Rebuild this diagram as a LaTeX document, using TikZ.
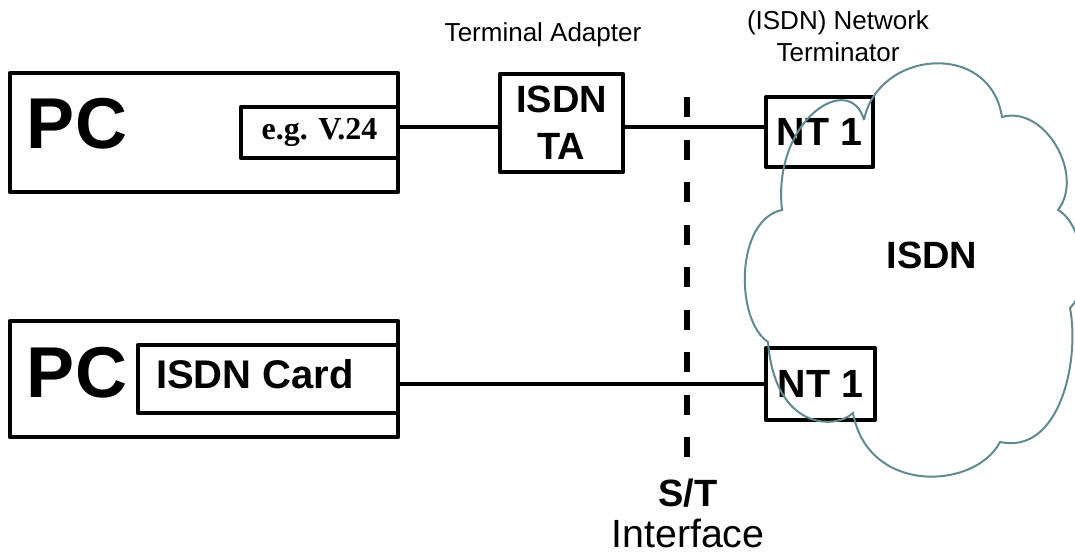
\documentclass[tikz,border=0pt]{standalone}
\usepackage{fontspec}
\setmainfont{Liberation Sans}
\newfontfamily\timesfont{Liberation Serif}

\begin{document}
\begin{tikzpicture}[x=0.75pt,y=0.75pt,yscale=-1,xscale=1,
	box/.style={draw,line width=3.5pt,line join=round,rectangle,inner sep=0pt},
	link/.style={line width=3.2pt},
	stline/.style={line width=4.5pt,dash pattern=on 15pt off 16.9pt},
	cloudline/.style={color={rgb, 255:red, 96; green, 138; blue, 144 },line width=1.5pt},
	pcfont/.style={font=\fontsize{54}{60}\selectfont\bfseries},
	bigfont/.style={font=\fontsize{28.5}{35}\selectfont\bfseries},
	ntfont/.style={font=\fontsize{29.5}{35}\selectfont\bfseries},
	smallfont/.style={font=\fontsize{19.5}{24}\selectfont}]
		%set diagram size to 1075 x 556
		\useasboundingbox (0,0) rectangle (1075,556);
		
		\node [box,minimum width=291pt,minimum height=89.25pt] (pc1) at (204,132.5) {};
		\node [box,minimum width=117.75pt,minimum height=38.25pt,font=\timesfont\fontsize{24}{28}\selectfont\bfseries] (v24) at (319.5,132.5) {e.g. V.24};
		\node [box,minimum width=92.25pt,minimum height=73.5pt,align=center,bigfont] (ta) at (561.5,123) {ISDN\\TA};
		\node [box,minimum width=80.25pt,minimum height=52.5pt,ntfont] (nt1a) at (819.5,132) {NT 1};
		
		\node [box,minimum width=291pt,minimum height=87pt] (pc2) at (204,379) {};
		\node [box,minimum width=195pt,minimum height=51pt] (card) at (268,379) {};
		\node [box,minimum width=81.75pt,minimum height=54pt,ntfont] (nt1b) at (820.5,384) {NT 1};
		
		\node [pcfont] (pc1text) at (77,124) {PC};
		\node [pcfont] (pc2text) at (77,372.5) {PC};
		\node [font=\fontsize{30}{35}\selectfont\bfseries] (cardtext) at (255,374) {ISDN Card};
		
		\coordinate (rowa) at (0,127);
		\draw [link] (v24.east |- rowa) -- (ta.west |- rowa);
		\draw [link] (ta.east |- rowa) -- (nt1a.west |- rowa);
		\draw [link] (card.east |- nt1b.west) -- (nt1b.west);
		
		\coordinate (sttop) at (687,97);
		\coordinate (stbot) at (687,457);
		\draw [stline] (sttop) -- (stbot);
		
		\draw [cloudline] (864,120) .. controls (878,50) and (990,40) .. (1002,117)
			.. controls (1045,105) and (1085,175) .. (1058,210)
			.. controls (1085,225) and (1090,290) .. (1070,308)
			.. controls (1080,360) and (1060,455) .. (1000,442)
			.. controls (975,490) and (868,495) .. (853,413)
			.. controls (835,430) and (775,430) .. (768,342)
			.. controls (735,320) and (735,220) .. (782,210)
			.. controls (772,120) and (850,70) .. (864,120);
		
		\node [smallfont] (talabel) at (543,35) {Terminal Adapter};
		\node [smallfont,align=center] (ntlabel) at (838,36) {(ISDN) Network\\Terminator};
		\node [bigfont] (isdn) at (932,255) {ISDN};
		\node [bigfont] (st) at (688,493) {S/T};
		\node [font=\fontsize{29.5}{34}\selectfont] (iface) at (688,533) {Interface};
		
\end{tikzpicture}
\end{document}
